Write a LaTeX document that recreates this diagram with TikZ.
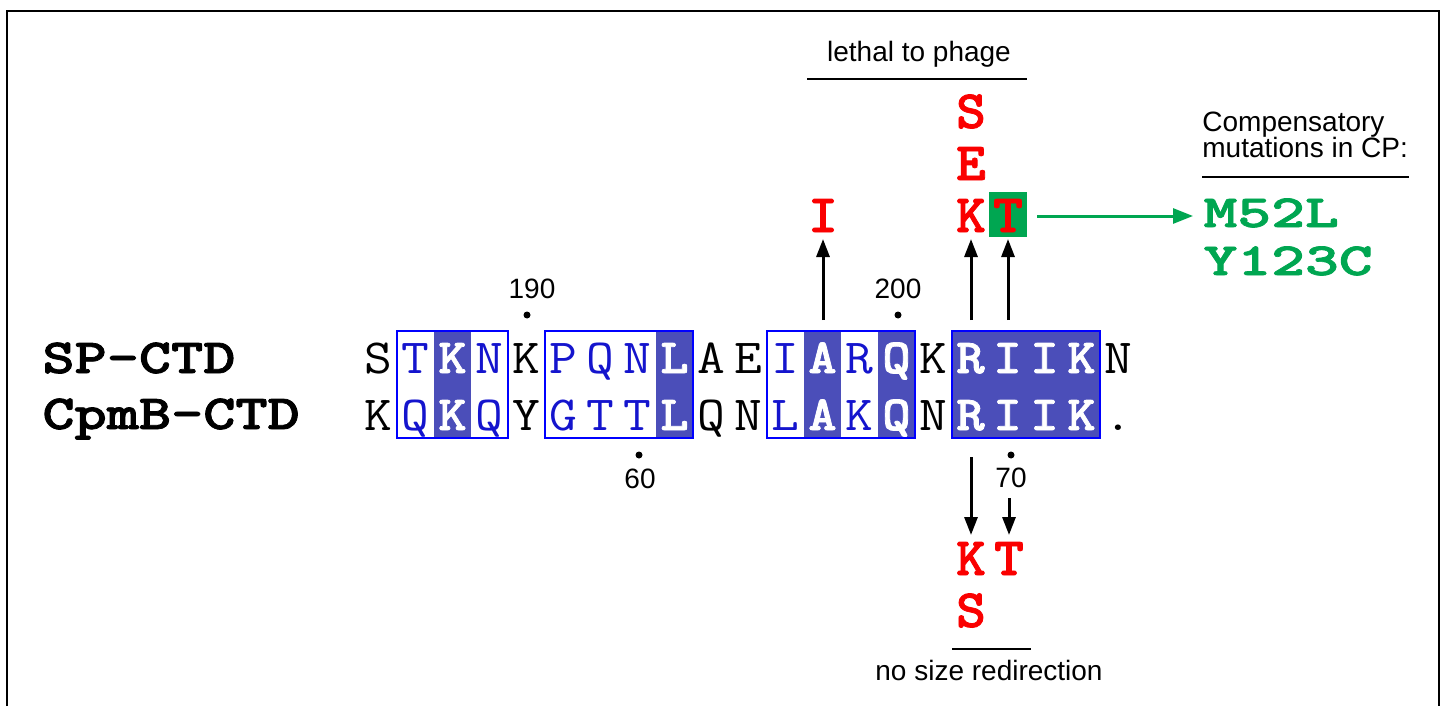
\documentclass[tikz,border=0pt]{standalone}
\usepackage{fontspec}
\setmainfont{Liberation Sans}
\newfontfamily\boldmono{lmmonolt10-bold}[Extension=.otf, FakeBold=1.5]
\usetikzlibrary{arrows.meta}
\definecolor{cellfill}{RGB}{75,78,185}
\definecolor{boxblue}{RGB}{0,0,255}
\definecolor{txtblue}{RGB}{20,20,205}
\definecolor{cpgreen}{RGB}{0,166,81}
\definecolor{mutred}{RGB}{250,0,0}
\tikzset{
  seqbase/.style={font=\ttfamily\fontsize{24.5}{24.5}\selectfont, anchor=base, inner sep=0pt, xscale=1.1},
  seq0/.style={seqbase, text=black},
  seq1/.style={seqbase, text=txtblue},
  seq2/.style={seqbase, font=\boldmono\fontsize{24.5}{24.5}\selectfont, text=white},
  rowlab/.style={font=\boldmono\fontsize{24.5}{24.5}\selectfont, anchor=base west, inner sep=0pt, xscale=1.25},
  mut/.style={font=\boldmono\fontsize{27}{27}\selectfont, text=mutred, anchor=base, inner sep=0pt, xscale=1.05},
  comp/.style={font=\boldmono\fontsize{23}{23}\selectfont, text=cpgreen, anchor=base west, inner sep=0pt, xscale=1.4},
  lab/.style={font=\fontsize{14}{14}\selectfont, anchor=base, inner sep=0pt},
  labw/.style={lab, anchor=base west},
  dotn/.style={circle, fill=black, inner sep=0pt, minimum size=3.5pt},
  arr/.style={line width=1.5pt, -{Triangle[length=9pt,width=6.5pt]}},
  garr/.style={line width=1.5pt, cpgreen, -{Triangle[length=10pt,width=7.5pt]}},
  rule/.style={line width=0.7pt},
  seqbox/.style={draw=boxblue, line width=1pt},
  cell/.style={fill=cellfill},
}
\begin{document}
\begin{tikzpicture}[x=0.5pt,y=-0.5pt]
\useasboundingbox (0,0) rectangle (1444,706);
% frame
\draw[line width=1pt] (7,706) -- (7,11) -- (1439,11) -- (1439,706);

% filled cells
\fill[cell] (434,331) rectangle (471,438);
\fill[cell] (656,331) rectangle (693,438);
\fill[cell] (804,331) rectangle (841,438);
\fill[cell] (878,331) rectangle (915,438);
\fill[cell] (952,331) rectangle (1100,438);
% boxes
\draw[seqbox] (397,331) rectangle (508,438);
\draw[seqbox] (545,331) rectangle (693,438);
\draw[seqbox] (767,331) rectangle (915,438);
\draw[seqbox] (952,331) rectangle (1100,438);

% row labels
\node[rowlab] (lab1) at (42,373) {SP-CTD};
\node[rowlab] (lab2) at (42,429) {CpmB-CTD};

% sequence letters
\foreach \i/\a/\b/\t in {0/S/K/0, 1/T/Q/1, 2/K/K/2, 3/N/Q/1, 4/K/Y/0, 5/P/G/1, 6/Q/T/1,
  7/N/T/1, 8/L/L/2, 9/A/Q/0, 10/E/N/0, 11/I/L/1, 12/A/A/2, 13/R/K/1, 14/Q/Q/2,
  15/K/N/0, 16/R/R/2, 17/I/I/2, 18/I/I/2, 19/K/K/2, 20/N/./0} {
  \node[seq\t] (ra\i) at ({378.5+37*\i},373) {\a};
  \node[seq\t] (rb\i) at ({378.5+37*\i},430) {\b};
}

% numbering
\node[lab] (n190) at (532,298) {190};
\node[dotn] (d190) at (527,315) {};
\node[lab] (n200) at (898,298) {200};
\node[dotn] (d200) at (898,315) {};
\node[lab] (n60) at (640,488) {60};
\node[dotn] (d60) at (639,455) {};
\node[lab] (n70) at (1011,487) {70};
\node[dotn] (d70) at (1011,455) {};

% lethal mutations (up)
\node[lab] (lethal) at (919,62) {lethal to phage};
\coordinate (lethalL) at (807,79);
\coordinate (lethalR) at (1027,79);
\draw[rule] (lethalL) -- (lethalR);

\node[fill=cpgreen, inner sep=0pt, minimum width=19pt, minimum height=22.5pt] (tbox) at (1008,214.5) {};
\node[mut] (mI) at (823,232) {I};
\node[mut] (mK) at (971,232) {K};
\node[mut] (mT) at (1008,232) {T};
\node[mut] (mE) at (971,180) {E};
\node[mut] (mS) at (971,128) {S};

\coordinate (u1s) at (823,320); \coordinate (u1e) at (823,239);
\coordinate (u2s) at (971,320); \coordinate (u2e) at (971,239);
\coordinate (u3s) at (1008,320); \coordinate (u3e) at (1008,239);
\draw[arr] (u1s) -- (u1e);
\draw[arr] (u2s) -- (u2e);
\draw[arr] (u3s) -- (u3e);

% compensatory
\node[labw] (comp1) at (1202,132) {Compensatory};
\node[labw] (comp2) at (1202,157) {mutations in CP:};
\coordinate (compL) at (1202,177);
\coordinate (compR) at (1409,177);
\draw[rule] (compL) -- (compR);
\node[comp] (m52) at (1203,227) {M52L};
\node[comp] (y123) at (1203,275) {Y123C};
\coordinate (gs) at (1037,216);
\coordinate (ge) at (1193,216);
\draw[garr] (gs) -- (ge);

% down mutations
\coordinate (d1s) at (971,457); \coordinate (d1e) at (971,535);
\coordinate (d2s) at (1009,498); \coordinate (d2e) at (1009,535);
\draw[arr] (d1s) -- (d1e);
\draw[arr] (d2s) -- (d2e);
\node[mut] (bK) at (971,575) {K};
\node[mut] (bT) at (1009,575) {T};
\node[mut] (bS) at (971,627) {S};
\coordinate (nsL) at (952,649);
\coordinate (nsR) at (1031,649);
\draw[rule] (nsL) -- (nsR);
\node[lab] (nosize) at (989,680) {no size redirection};
\end{tikzpicture}
\end{document}
